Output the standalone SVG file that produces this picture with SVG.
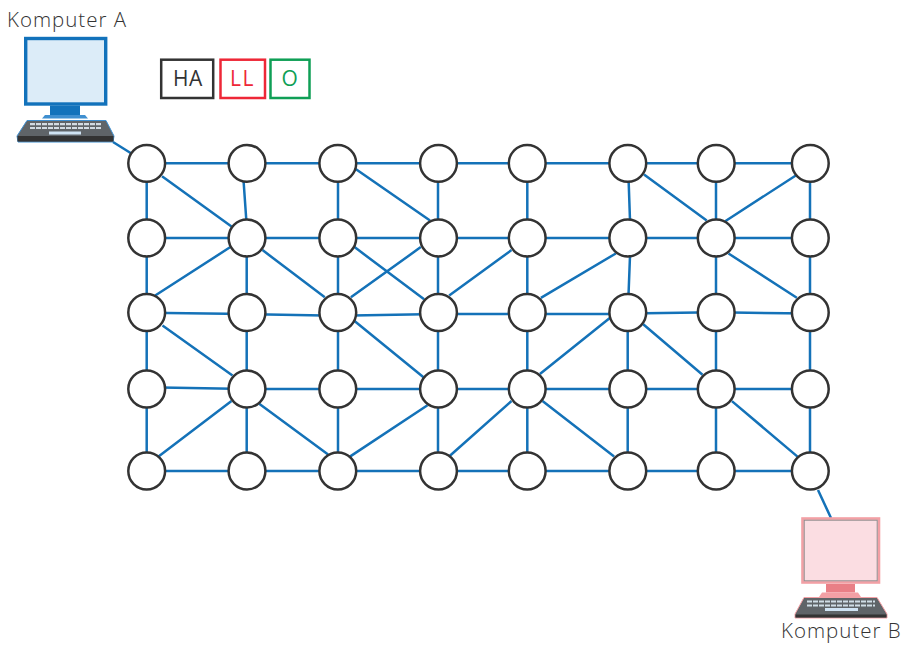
<svg xmlns="http://www.w3.org/2000/svg" width="904" height="645" viewBox="0 0 904 645">
<style>
text{font-family:"Open Sans","Noto Sans","Liberation Sans",sans-serif;font-size:20.5px;font-weight:300;fill:#333;letter-spacing:1px}
.lt{font-size:21px;font-weight:400;letter-spacing:.5px}
.n{fill:#fff;stroke:#333;stroke-width:2.500}
#edges path{fill:none;stroke:#1472b8;stroke-width:2.500}
.leg{fill:#fff;stroke-width:2.500}
.key{fill:none;stroke-width:2.200;stroke-dasharray:5 1}
</style>
<rect width="904" height="645" fill="#fff"/>
<g id="edges">
<path d="M113 142L147 163.300M818 490L831 518"/>
<path d="M147 163.300H810"/>
<path d="M147 238H810"/>
<path d="M147 312.700L247 314L338 315.700L438 314H628M628 313.500L716 312.300L810 313.500"/>
<path d="M147 387.300L247 389H810"/>
<path d="M147 471H810"/>
<path d="M146.700 163.300V471M243.500 180L246.300 220M246.700 238V471M338 163.300V471M438 163.300V471M527.300 163.300V471M628.600 180L630 220M630 256L628.500 295M627.700 312V471M716 163.300V471M810 163.300V471"/>
<path d="M162 176.200L231.500 226.600M355.300 168.800L430 220.500M644 174.500L706.700 220.600M795.800 175.500L725.200 221.200"/>
<path d="M230 247.300L155.200 295.500M262.500 250.100L324.800 297.300M354.500 247.100L424.100 299.300M420.800 247.100L350.900 297.300M511.500 250.100L449.200 295.600M615.800 253.500L540.900 297.800M728.500 253.500L796.800 297.800"/>
<path d="M162.500 325.400L232.500 375.600M354.500 321L423.500 377.300M610.100 317.700L539.900 373.900M643.200 324.300L702.500 374.700"/>
<path d="M231.500 401L158.500 456.600M259.200 403.700L328.100 454.600M427.500 405.200L349.900 456.600M511.500 401L449.900 455.700M542.500 401.100L614.100 456.600M731.900 401.100L797.500 456.600"/>
</g>
<g id="node-0-0"><circle class="n" cx="146.700" cy="163.300" r="18.400"/></g>
<g id="node-0-1"><circle class="n" cx="247" cy="163.300" r="18.400"/></g>
<g id="node-0-2"><circle class="n" cx="337.800" cy="163.300" r="18.400"/></g>
<g id="node-0-3"><circle class="n" cx="438.500" cy="163.300" r="18.400"/></g>
<g id="node-0-4"><circle class="n" cx="527.200" cy="163.300" r="18.400"/></g>
<g id="node-0-5"><circle class="n" cx="627.800" cy="163.300" r="18.400"/></g>
<g id="node-0-6"><circle class="n" cx="716.200" cy="163.300" r="18.400"/></g>
<g id="node-0-7"><circle class="n" cx="810.300" cy="163.300" r="18.400"/></g>
<g id="node-1-0"><circle class="n" cx="146.700" cy="238" r="18.400"/></g>
<g id="node-1-1"><circle class="n" cx="247" cy="238" r="18.400"/></g>
<g id="node-1-2"><circle class="n" cx="337.800" cy="238" r="18.400"/></g>
<g id="node-1-3"><circle class="n" cx="438.500" cy="238" r="18.400"/></g>
<g id="node-1-4"><circle class="n" cx="527.200" cy="238" r="18.400"/></g>
<g id="node-1-5"><circle class="n" cx="627.800" cy="238" r="18.400"/></g>
<g id="node-1-6"><circle class="n" cx="716.200" cy="238" r="18.400"/></g>
<g id="node-1-7"><circle class="n" cx="810.300" cy="238" r="18.400"/></g>
<g id="node-2-0"><circle class="n" cx="146.700" cy="312.500" r="18.400"/></g>
<g id="node-2-1"><circle class="n" cx="247" cy="312.500" r="18.400"/></g>
<g id="node-2-2"><circle class="n" cx="337.800" cy="312.500" r="18.400"/></g>
<g id="node-2-3"><circle class="n" cx="438.500" cy="312.500" r="18.400"/></g>
<g id="node-2-4"><circle class="n" cx="527.200" cy="312.500" r="18.400"/></g>
<g id="node-2-5"><circle class="n" cx="627.800" cy="312.500" r="18.400"/></g>
<g id="node-2-6"><circle class="n" cx="716.200" cy="312.500" r="18.400"/></g>
<g id="node-2-7"><circle class="n" cx="810.300" cy="312.500" r="18.400"/></g>
<g id="node-3-0"><circle class="n" cx="146.700" cy="389" r="18.400"/></g>
<g id="node-3-1"><circle class="n" cx="247" cy="389" r="18.400"/></g>
<g id="node-3-2"><circle class="n" cx="337.800" cy="389" r="18.400"/></g>
<g id="node-3-3"><circle class="n" cx="438.500" cy="389" r="18.400"/></g>
<g id="node-3-4"><circle class="n" cx="527.200" cy="389" r="18.400"/></g>
<g id="node-3-5"><circle class="n" cx="627.800" cy="389" r="18.400"/></g>
<g id="node-3-6"><circle class="n" cx="716.200" cy="389" r="18.400"/></g>
<g id="node-3-7"><circle class="n" cx="810.300" cy="389" r="18.400"/></g>
<g id="node-4-0"><circle class="n" cx="146.700" cy="471" r="18.400"/></g>
<g id="node-4-1"><circle class="n" cx="247" cy="471" r="18.400"/></g>
<g id="node-4-2"><circle class="n" cx="337.800" cy="471" r="18.400"/></g>
<g id="node-4-3"><circle class="n" cx="438.500" cy="471" r="18.400"/></g>
<g id="node-4-4"><circle class="n" cx="527.200" cy="471" r="18.400"/></g>
<g id="node-4-5"><circle class="n" cx="627.800" cy="471" r="18.400"/></g>
<g id="node-4-6"><circle class="n" cx="716.200" cy="471" r="18.400"/></g>
<g id="node-4-7"><circle class="n" cx="810.300" cy="471" r="18.400"/></g>
<g id="legend">
<g id="legend-ha"><rect class="leg" x="161.200" y="59.700" width="52" height="38.300" stroke="#333"/><text class="lt" x="188" y="85.800" text-anchor="middle">HA</text></g>
<g id="legend-ll"><rect class="leg" x="220.500" y="59.700" width="44.500" height="38.300" stroke="#ee2737"/><text class="lt" x="242.500" y="85.800" text-anchor="middle" style="fill:#ee2737;letter-spacing:1.500px">LL</text></g>
<g id="legend-o"><rect class="leg" x="270.500" y="59.700" width="39" height="38.300" stroke="#0f9f56"/><text class="lt" x="290" y="85.800" text-anchor="middle" style="fill:#0f9f56">O</text></g>
</g>
<g id="computer-a">
<text x="7" y="26.500">Komputer A</text>
<rect x="25.700" y="38.500" width="80" height="65.500" fill="#dcecf8" stroke="#1272bb" stroke-width="3.400"/>
<rect x="50" y="105.500" width="30" height="9.500" fill="#1272bb"/>
<path d="M45 115H85L88 118.500H42Z" fill="#3f8fd0"/>
<path d="M27 120.500H106L114 136L113 142H18L17 136Z" fill="#5f6468" stroke="#3f8fd0" stroke-width="1"/>
<path d="M17.500 136H113.500V141.500H17.500Z" fill="#333"/>
<path class="key" d="M30 124.200H101M30 128H101" stroke="#d3dbe2"/>
<rect x="49" y="131.500" width="32" height="3" fill="#cfe3f3"/>
</g>
<g id="computer-b">
<rect x="802.500" y="518.500" width="76.500" height="64" fill="#fbdde2" stroke="#f3a0a5" stroke-width="2.600"/>
<rect x="804.200" y="520.200" width="73" height="60.600" fill="none" stroke="#8f8a8c" stroke-width="1"/>
<rect x="826" y="584" width="29" height="8.500" fill="#e97f86"/>
<path d="M822 592.500H858L861 597H819Z" fill="#f3a0a5"/>
<path d="M804 597.500H877L887 614V618H795V614Z" fill="#5f6468" stroke="#f3a0a5" stroke-width="1"/>
<path d="M795.500 614.500H886.500V617.500H795.500Z" fill="#333"/>
<path class="key" d="M807 601.500H875M807 605.500H875" stroke="#d0dde6"/>
<rect x="825" y="608" width="33" height="3" fill="#cfe3f3"/>
<text x="781" y="638">Komputer B</text>
</g>
</svg>
